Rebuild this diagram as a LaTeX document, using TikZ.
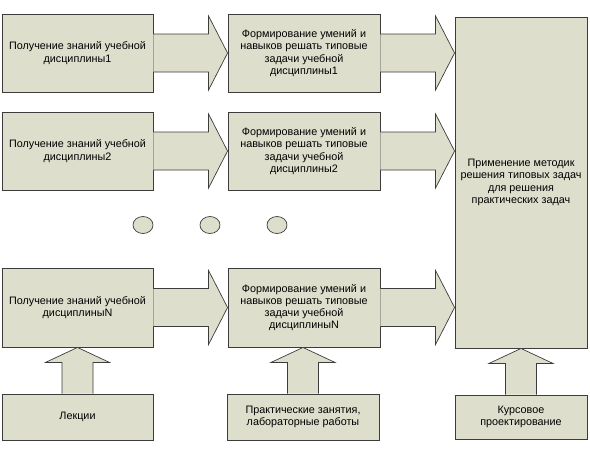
\documentclass[tikz,border=0pt]{standalone}
\usepackage{fontspec}
\setmainfont{Liberation Sans}
\usetikzlibrary{calc,shapes.geometric}
\definecolor{boxfill}{RGB}{221,223,204}
\definecolor{boxline}{RGB}{60,60,60}
\begin{document}
\begin{tikzpicture}[x=1pt,y=-1pt,
  box/.style={draw=boxline,fill=boxfill,line width=0.9pt,inner sep=0pt,align=center,
    font=\fontsize{10.8}{12.2}\selectfont},
  blk/.style={draw=boxline,fill=boxfill,line width=0.7pt,line join=miter},
  dotnode/.style={draw=boxline,fill=boxfill,line width=0.7pt,ellipse,inner sep=0pt,
    minimum width=20pt,minimum height=17pt}]
\useasboundingbox[fill=white] (0,0) rectangle (590,456);
% left column
\node[box,minimum width=151pt,minimum height=78pt] (L1) at (77.5,53) {Получение знаний учебной\\дисциплины1};
\node[box,minimum width=151pt,minimum height=78pt] (L2) at (77.5,151) {Получение знаний учебной\\дисциплины2};
\node[box,minimum width=151pt,minimum height=79pt] (LN) at (77.5,307.5) {Получение знаний учебной\\дисциплиныN};
% middle column
\node[box,minimum width=152pt,minimum height=78pt] (M1) at (304,53) {Формирование умений и\\навыков решать типовые\\задачи учебной\\дисциплины1};
\node[box,minimum width=152pt,minimum height=78pt] (M2) at (304,151) {Формирование умений и\\навыков решать типовые\\задачи учебной\\дисциплины2};
\node[box,minimum width=152pt,minimum height=79pt] (MN) at (304,307.5) {Формирование умений и\\навыков решать типовые\\задачи учебной\\дисциплиныN};
% right box
\node[box,minimum width=132pt,minimum height=331pt] (R) at (521,182.5) {Применение методик\\решения типовых задач\\для решения\\практических задач};
% bottom boxes
\node[box,minimum width=151pt,minimum height=46pt] (B1) at (77.5,417) {Лекции};
\node[box,minimum width=152pt,minimum height=46pt] (B2) at (303,417) {Практические занятия,\\лабораторные работы};
\node[box,minimum width=132pt,minimum height=44pt] (B3) at (521,417) {Курсовое\\проектирование};
% dots
\node[dotnode] (d1) at (143,225) {};
\node[dotnode] (d2) at (210,225) {};
\node[dotnode] (d3) at (277,225) {};
% horizontal block arrows
\foreach \a/\b in {L1/M1,L2/M2,LN/MN}
  \draw[blk] ($(\a.east)+(0,-19)$) -- ($(\b.west)+(-19,-19)$) -- ($(\b.west)+(-19,-37)$)
    -- (\b.west) -- ($(\b.west)+(-19,37)$) -- ($(\b.west)+(-19,19)$) -- ($(\a.east)+(0,19)$);
\foreach \a in {M1,M2,MN}{
  \coordinate (t\a) at (R.west |- \a.east);
  \draw[blk] ($(\a.east)+(0,-19)$) -- ($(t\a)+(-19,-19)$) -- ($(t\a)+(-19,-37)$)
    -- (t\a) -- ($(t\a)+(-19,37)$) -- ($(t\a)+(-19,19)$) -- ($(\a.east)+(0,19)$);
}
% vertical block arrows
\foreach \a/\b in {B1/LN,B2/MN,B3/R}{
  \coordinate (u\a) at (\a.north |- \b.south);
  \draw[blk] ($(\a.north)+(-15.5,0)$) -- ($(u\a)+(-15.5,15)$) -- ($(u\a)+(-32,15)$)
    -- (u\a) -- ($(u\a)+(32,15)$) -- ($(u\a)+(15.5,15)$) -- ($(\a.north)+(15.5,0)$);
}
\end{tikzpicture}
\end{document}
